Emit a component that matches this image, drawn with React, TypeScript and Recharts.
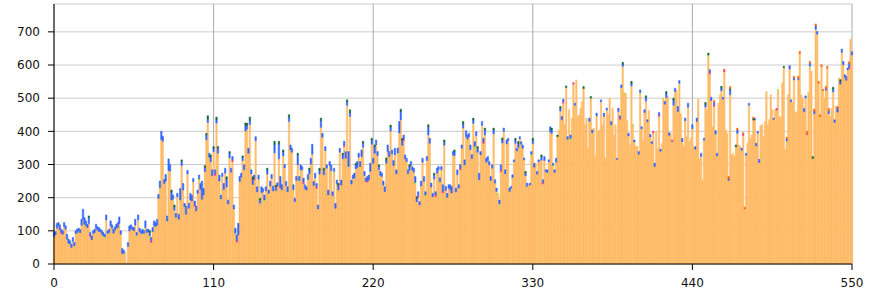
import React from "react";
import { BarChart, Bar, XAxis, YAxis, CartesianGrid } from "recharts";

// top of each stacked bar (x = 0..550)
const totalsA = [
  95, 98, 122, 125, 118, 105, 100, 125, 115, 90,
  75, 70, 60, 80, 65, 100, 105, 108, 104, 135,
  165, 140, 130, 120, 145, 95, 85, 100, 105, 120,
  112, 110, 105, 100, 95, 90, 148, 100, 105, 130,
  118, 105, 112, 120, 125, 142, 100, 47, 42, 38,
  5, 65, 115, 118, 112, 110, 135, 95, 148, 108,
  100, 105, 100, 130, 105, 105, 100, 80, 110, 130,
  125, 135, 210, 250, 400, 385, 255,
];
const totalsB = [
  270, 145, 317, 300, 223, 208, 178, 153, 213, 150,
  228, 314, 243, 183, 175, 282, 183, 213, 208, 258,
  190, 175, 223, 268, 243, 250, 228, 297, 394, 447,
  334, 329, 284, 354, 284, 443, 354, 268, 208, 274,
  243, 289, 263, 193, 339, 289, 324, 178, 108, 88,
  123, 264, 274, 326, 299, 425, 425, 349, 443, 284,
  263, 268, 384, 233, 268, 198, 233, 228, 208, 233,
  289, 223, 250, 270, 235, 370, 238, 245,
];
const totalsC = [
  370, 264, 239, 344, 300, 249, 233, 450, 359, 349,
  239, 198, 264, 334, 264, 299, 294, 259, 239, 233,
  270, 289, 319, 361, 249, 274, 243, 178, 289, 440,
  394, 289, 354, 299, 223, 309, 299, 218, 289, 183,
  253, 243, 349, 253, 334, 370, 339, 495, 339, 465,
  253, 268, 274, 304, 309, 334, 309, 344, 370, 279,
  259, 264, 268, 304, 379, 319, 359, 374, 339, 299,
  279, 274, 250, 233, 320, 359, 339, 419, 344,
];
const totalsD = [
  312, 349, 284, 350, 430, 467, 379, 389, 329, 319,
  284, 299, 309, 293, 289, 264, 203, 218, 188, 250,
  319, 264, 218, 324, 420, 379, 244, 213, 274, 218,
  289, 294, 260, 294, 239, 374, 234, 213, 239, 239,
  234, 339, 344, 229, 284, 239, 300, 359, 430, 314,
  402, 389, 394, 359, 330, 440, 369, 399, 354, 274,
  339, 430, 379, 410, 319, 324, 309, 264, 299, 410,
  254, 229, 213, 193, 299, 380, 410, 284,
];
const totalsE = [
  374, 379, 229, 234, 269, 314, 379, 349, 369, 384,
  369, 359, 320, 279, 244, 239, 244, 339, 379, 304,
  304, 279, 314, 314, 329, 254, 324, 284, 284, 314,
  414, 410, 304, 284, 319, 389, 404, 475, 445, 497,
  420, 537, 384, 465, 389, 440, 547, 485, 555, 445,
  450, 470, 490, 535, 420, 440, 349, 440, 505, 404,
  410, 324, 455, 399, 404, 495, 420, 455, 319, 470,
  450, 500, 430, 470, 390, 420,
];
const totalsF = [
  319, 470, 447, 540, 608, 517, 515, 432, 394, 359,
  551, 422, 374, 354, 356, 339, 525, 414, 374, 465,
  507, 435, 463, 391, 369, 400, 304, 400, 349, 457,
  346, 364, 500, 490, 520, 505, 396, 394, 374, 500,
  530, 525, 475, 553, 453, 379, 356, 440, 384, 485,
  369, 381, 420, 354, 354, 440, 497, 317, 334, 253,
  379, 487, 463, 636, 586, 503, 414, 493, 402, 334,
  485, 510, 536, 503, 588, 404, 394, 264,
];
const totalsG = [
  535, 329, 334, 324, 359, 410, 359, 354, 349, 396,
  171, 334, 364, 485, 379, 389, 443, 440, 364, 400,
  316, 417, 420, 384, 430, 520, 420, 435, 510, 465,
  440, 465, 469, 527, 445, 443, 546, 596, 345, 382,
  510, 598, 495, 486, 566, 457, 460, 566, 641, 510,
  500, 469, 507, 400, 517, 611, 581, 324, 467, 724,
  701, 551, 450, 601, 527, 500, 536, 596, 469, 445,
  468, 533, 435, 475, 475, 561, 556, 648, 611, 571,
  566, 591, 610, 678, 640,
];

// blue segment on top of most bars
const blueA = [
  12, 10, 14, 10, 15, 8, 10, 12, 10, 15, 12, 10, 10, 12, 10, 8, 10, 8, 10, 18,
  30, 20, 15, 10, 18, 8, 12, 8, 10, 12, 10, 12, 8, 10, 10, 8, 15, 8, 10, 15,
  10, 12, 10, 12, 15, 20, 10, 15, 10, 0, 0, 12, 15, 10, 8, 10, 18, 8, 15, 10,
  8, 12, 8, 20, 10, 8, 10, 10, 12, 15, 12, 18, 12, 20, 25, 15, 12,
];
const blueB = [
  20, 15, 35, 20, 25, 12, 10, 12, 10, 15, 35, 12, 20, 10, 25, 10, 15, 20, 18, 10,
  12, 15, 10, 12, 18, 55, 20, 12, 15, 10, 12, 15, 18, 10, 12, 10, 15, 18, 12, 10,
  18, 15, 25, 12, 15, 12, 10, 12, 15, 18, 35, 15, 12, 10, 15, 18, 10, 15, 12, 12,
  15, 10, 12, 15, 12, 10, 18, 10, 15, 12, 12, 10, 15, 12, 15, 25, 12, 10,
];
const blueC = [
  45, 30, 15, 12, 10, 12, 15, 12, 15, 12, 15, 10, 12, 30, 12, 15, 10, 12, 12, 10,
  15, 12, 18, 30, 12, 15, 10, 12, 12, 20, 12, 15, 12, 10, 15, 12, 18, 12, 10, 15,
  12, 15, 12, 15, 12, 12, 20, 10, 45, 12, 12, 10, 15, 12, 18, 12, 15, 20, 12, 12,
  10, 12, 15, 25, 12, 15, 20, 15, 12, 10, 12, 10, 12, 15, 10, 20, 15, 12, 12,
];
const blueD = [
  15, 20, 12, 15, 35, 25, 15, 12, 12, 10, 12, 10, 12, 10, 12, 18, 10, 12, 10, 15,
  12, 15, 10, 12, 25, 15, 12, 10, 12, 10, 15, 10, 12, 10, 20, 10, 12, 12, 10, 15,
  20, 10, 12, 12, 15, 10, 12, 10, 12, 15, 18, 12, 10, 15, 12, 10, 15, 12, 12, 20,
  10, 12, 10, 15, 12, 12, 10, 12, 10, 12, 10, 10, 0, 12, 15, 10, 10, 12,
];
const blueE = [
  12, 8, 10, 6, 8, 6, 10, 8, 12, 6, 8, 10, 6, 8, 10, 0, 6, 8, 10, 12,
  0, 8, 6, 0, 10, 8, 12, 6, 8, 6, 15, 10, 6, 8, 12, 0, 0, 8, 10, 6,
  0, 0, 8, 0, 10, 0, 0, 6, 0, 0, 0, 0, 0, 0, 0, 0, 0, 10, 0, 8,
  0, 0, 8, 0, 0, 6, 0, 10, 0, 6, 0, 0, 10, 0, 0, 0,
];
const blueF = [
  4, 10, 6, 8, 6, 0, 0, 0, 8, 0, 8, 0, 6, 0, 0, 8, 8, 6, 0, 8,
  10, 6, 0, 8, 6, 0, 10, 0, 0, 8, 6, 0, 0, 8, 12, 0, 8, 0, 0, 15,
  10, 0, 15, 8, 0, 10, 0, 8, 0, 12, 0, 0, 12, 0, 8, 10, 0, 0, 10, 0,
  6, 8, 0, 0, 8, 10, 0, 8, 10, 8, 0, 0, 8, 6, 0, 0, 0, 6,
];
const blueG = [
  15, 0, 0, 0, 0, 10, 0, 0, 6, 0, 0, 6, 0, 6, 0, 0, 0, 6, 8, 6,
  10, 0, 0, 0, 0, 0, 0, 0, 0, 0, 4, 0, 0, 0, 0, 0, 0, 0, 0, 6,
  0, 10, 6, 0, 6, 0, 0, 4, 0, 0, 0, 10, 6, 0, 0, 8, 0, 0, 8, 10,
  8, 0, 0, 0, 0, 0, 6, 0, 10, 0, 0, 8, 8, 0, 12, 0, 8, 10, 10, 8,
  12, 6, 12, 0, 10,
];

// the rarer colours, as [x, size]
const greenCaps: [number, number][] = [
  [24, 5], [66, 5], [81, 5], [83, 6], [88, 5], [104, 6], [105, 4], [106, 10], [108, 6],
  [110, 5], [112, 8], [113, 5], [119, 6], [121, 4], [130, 4], [132, 6], [133, 8], [135, 10],
  [137, 8], [142, 5], [147, 6], [152, 10], [153, 5], [155, 8], [158, 6], [162, 8], [168, 5],
  [176, 5], [183, 6], [184, 8], [186, 5], [196, 5], [199, 5], [202, 6], [204, 8], [208, 5],
  [213, 6], [219, 6], [221, 5], [224, 5], [229, 6], [232, 6], [239, 8], [240, 6], [245, 6],
  [250, 5], [258, 6], [262, 6], [269, 6], [276, 5], [282, 8], [289, 6], [292, 5], [297, 6],
  [303, 6], [309, 5], [318, 5], [320, 6], [325, 5], [330, 6], [336, 6], [343, 6], [347, 5],
  [349, 6], [353, 5], [365, 6], [370, 5], [392, 6], [398, 6], [408, 6], [422, 6], [427, 6],
  [449, 6], [451, 6], [460, 6], [466, 4], [470, 6], [482, 4], [503, 4], [523, 6], [537, 6], [542, 6],
];
const pinkCaps: [number, number][] = [
  [5, 5], [25, 5], [67, 5], [97, 4], [111, 5], [123, 5], [126, 4], [138, 4], [156, 5], [172, 5],
  [181, 5], [200, 4], [216, 5], [241, 5], [251, 5], [263, 4], [268, 4], [280, 4], [296, 5], [308, 5],
  [337, 5], [351, 6], [358, 5], [390, 5], [413, 5], [417, 4], [426, 5], [452, 5], [455, 5], [462, 5],
  [475, 5], [498, 5], [519, 4], [548, 4],
];
const limeCaps: [number, number][] = [
  [13, 4], [34, 4], [66, 5], [82, 5], [90, 5], [100, 5], [121, 4], [145, 5], [165, 4], [193, 5],
  [237, 5], [249, 5], [256, 4], [266, 4], [290, 8], [306, 4], [329, 5], [344, 5], [356, 6], [393, 6],
  [399, 6], [404, 5], [420, 6], [451, 6], [499, 6], [521, 5],
];
const redCaps: [number, number][] = [
  [455, 5], [462, 4], [465, 6], [466, 6], [471, 6], [475, 4], [476, 5], [482, 5], [505, 5], [510, 5],
  [513, 6], [514, 6], [519, 6], [521, 6], [524, 6], [525, 6], [527, 6], [528, 6], [529, 6], [530, 5],
  [532, 6], [533, 6], [534, 6], [540, 5], [548, 5],
];

const xTicks = [0, 110, 220, 330, 440, 550];
const yTicks = [0, 100, 200, 300, 400, 500, 600, 700];

const totals = [...totalsA, ...totalsB, ...totalsC, ...totalsD, ...totalsE, ...totalsF, ...totalsG];
const blueCaps = [...blueA, ...blueB, ...blueC, ...blueD, ...blueE, ...blueF, ...blueG];

const lookup = (list: [number, number][]) => {
  const m = new Map(list);
  return (i: number) => m.get(i) ?? 0;
};
const pinkAt = lookup(pinkCaps);
const limeAt = lookup(limeCaps);
const greenAt = lookup(greenCaps);
const redAt = lookup(redCaps);

const rows = totals.map((t, i) => {
  const pink = pinkAt(i);
  const lime = limeAt(i);
  const blue = blueCaps[i] ?? 0;
  const green = greenAt(i);
  const red = redAt(i);
  const caps = pink + lime + blue + green + red;
  return { x: i, orange: Math.max(t - caps, 0), pink, lime, blue, green, red };
});

const tickStyle = { fontFamily: "DejaVu Sans", fontSize: 12, fill: "#111" };

// stack order, bottom to top
const series = [
  { key: "orange", color: "#ffbb66" },
  { key: "pink", color: "#ff3399" },
  { key: "lime", color: "#bbdd44" },
  { key: "blue", color: "#3366ff" },
  { key: "green", color: "#116633" },
  { key: "red", color: "#ff6600" },
];

export default function App() {
  return (
    <div style={{ position: "absolute", left: 0, top: 0, width: 876, height: 297, background: "#fff" }}>
      <BarChart
        width={876}
        height={297}
        data={rows}
        margin={{ top: 4, right: 24, bottom: 3, left: 0 }}
        barCategoryGap={0}
        barGap={0}
      >
        <CartesianGrid vertical={false} stroke="#cccccc" />
        <CartesianGrid horizontal={false} stroke="#aaaaaa" />
        <XAxis
          dataKey="x"
          type="number"
          domain={[0, 550]}
          ticks={xTicks}
          interval={0}
          tick={tickStyle}
          tickSize={6}
          tickMargin={8}
          stroke="#000"
          height={30}
        />
        <YAxis
          type="number"
          domain={[0, 784]}
          ticks={yTicks}
          interval={0}
          tick={tickStyle}
          tickSize={6}
          tickMargin={8}
          stroke="#000"
          width={54}
        />
        {series.map((s) => (
          <Bar
            key={s.key}
            dataKey={s.key}
            stackId="a"
            fill={s.color}
            stroke={s.color}
            strokeWidth={0.5}
            barSize={1.45}
            isAnimationActive={false}
          />
        ))}
      </BarChart>
    </div>
  );
}
